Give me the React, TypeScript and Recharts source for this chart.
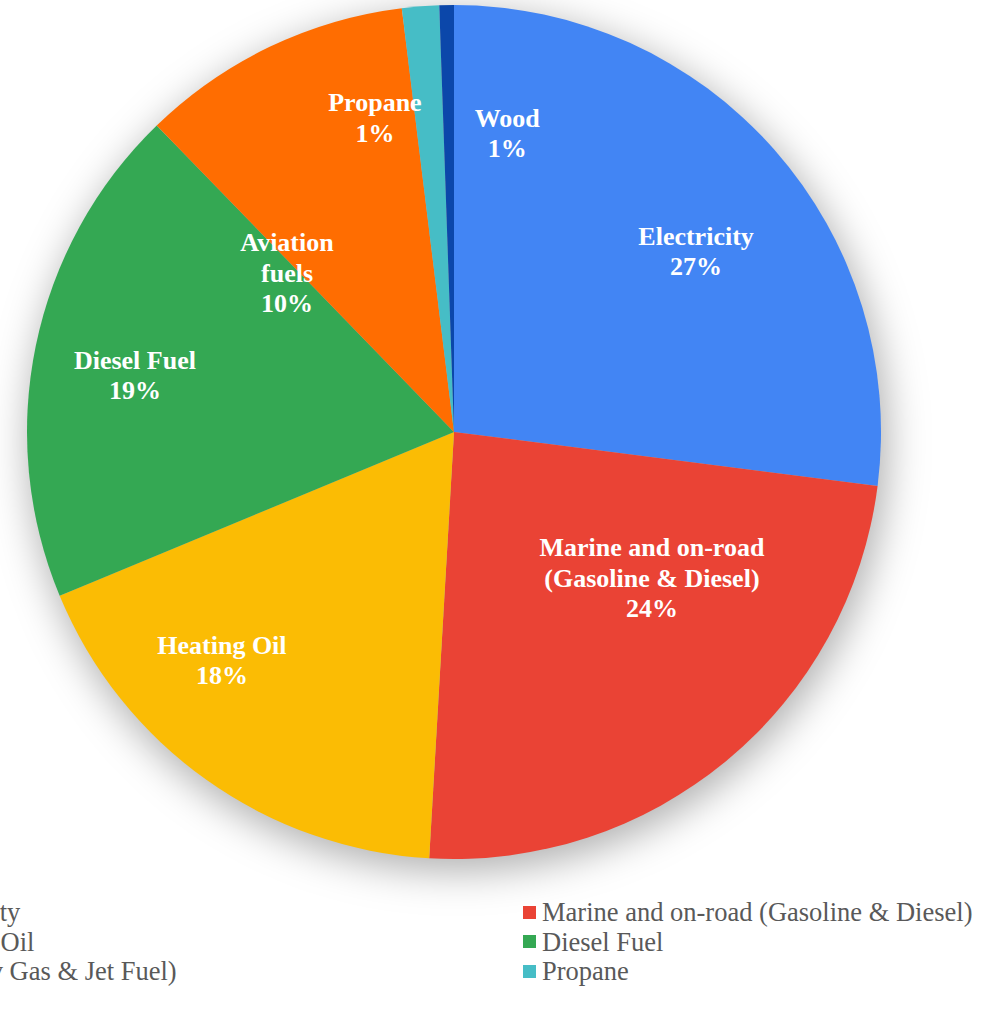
import * as React from 'react'
import { Cell, Legend, Pie, PieChart } from 'recharts'

// DATA

const categories = ['Electricity', 'Marine and on-road (Gasoline & Diesel)', 'Heating Oil', 'Diesel Fuel', 'Aviation fuels', 'Propane', 'Wood']
const legendNames = ['Electricity', 'Marine and on-road (Gasoline & Diesel)', 'Heating Oil', 'Diesel Fuel', 'Fuel (Av Gas & Jet Fuel)', 'Propane', 'Wood']
const labelNames = [['Electricity'], ['Marine and on-road', '(Gasoline & Diesel)'], ['Heating Oil'], ['Diesel Fuel'], ['Aviation', 'fuels'], ['Propane'], ['Wood']]
const shares = [27.0, 23.9, 17.8, 19.0, 10.3, 1.4, 0.55]

// STYLE

const colors = ['#4285F4', '#EA4335', '#FBBC04', '#34A853', '#FF6D01', '#46BDC6', '#0B47AA']
// where each data label sits: angle in degrees (counter-clockwise from 3 o'clock) and fraction of radius
const labelSpots: [number, number][] = [[36.8, 0.708], [-36.4, 0.576], [224.5, 0.762], [169.9, 0.759], [136.4, 0.54], [104.1, 0.76], [79.9, 0.711]]

const FONT = '"Liberation Serif", "Times New Roman", serif'
const WIDTH = 1005
const HEIGHT = 1014
const LINE = 30.5

const data = categories.map((c, i) => ({ name: c, legendName: legendNames[i], value: shares[i] }))
const total = shares.reduce((a, b) => a + b, 0)

const renderLabel = (p: any) => {
    const [ang, frac] = labelSpots[p.index]
    const r = p.outerRadius * frac
    const x = p.cx + r * Math.cos(ang * Math.PI / 180)
    const y = p.cy - r * Math.sin(ang * Math.PI / 180)
    const lines = [...labelNames[p.index], `${Math.round(p.percent * 100)}%`]
    const top = y - (lines.length - 1) * LINE / 2
    return (
        <text x={x} y={top} textAnchor='middle' dominantBaseline='central' fill='#ffffff' fontFamily={FONT} fontWeight='bold' fontSize={26}>
            {lines.map((l, i) => <tspan key={i} x={x} y={top + i * LINE} dominantBaseline='central'>{l}</tspan>)}
        </text>
    )
}

const renderLegend = () => {
    return (
        <div style={{ position: 'relative', width: WIDTH, height: HEIGHT }}>
            {data.map((d, i) => {
                const col = i % 2
                const row = Math.floor(i / 2)
                return (
                    <div key={d.name} style={{ position: 'absolute', left: col === 0 ? -109 : 523, top: 912 - 15 + row * 29.5, height: 30, display: 'flex', alignItems: 'center', whiteSpace: 'nowrap' }}>
                        <span style={{ display: 'inline-block', width: 13, height: 13, background: colors[i], marginRight: 6 }}/>
                        <span style={{ fontFamily: FONT, fontSize: 26.5, color: '#595959', lineHeight: '30px' }}>{d.legendName}</span>
                    </div>
                )
            })}
        </div>
    )
}

export default function App() {
    return (
        <div style={{ position: 'absolute', left: 0, top: 0, width: WIDTH, height: HEIGHT, overflow: 'hidden', background: '#ffffff' }}>
            <style>{'.pie-shadow { filter: url(#pieShadow); }'}</style>
            <svg width={0} height={0} style={{ position: 'absolute' }}>
                <defs>
                    <filter id='pieShadow' x='-20%' y='-20%' width='140%' height='140%'>
                        <feGaussianBlur in='SourceGraphic' stdDeviation='14'/>
                        <feOffset dx='2' dy='5'/>
                    </filter>
                </defs>
            </svg>
            <PieChart width={WIDTH} height={HEIGHT} margin={{ top: 0, right: 0, bottom: 0, left: 0 }}>
                <Pie className='pie-shadow' data={[{ name: 'shadow', value: total }]} dataKey='value' cx={454} cy={432} outerRadius={430} startAngle={90} endAngle={-270} isAnimationActive={false} legendType='none' stroke='none' fill='#000000' fillOpacity={0.3}/>
                <Pie data={data} dataKey='value' nameKey='legendName' cx={454} cy={432} outerRadius={427} startAngle={90} endAngle={-270} isAnimationActive={false} stroke='none' label={renderLabel} labelLine={false}>
                    {data.map((d, i) => <Cell key={d.name} fill={colors[i]}/>)}
                </Pie>
                <Legend content={renderLegend} wrapperStyle={{ position: 'absolute', left: 0, top: 0, width: WIDTH, height: HEIGHT, pointerEvents: 'none' }}/>
            </PieChart>
        </div>
    )
}
